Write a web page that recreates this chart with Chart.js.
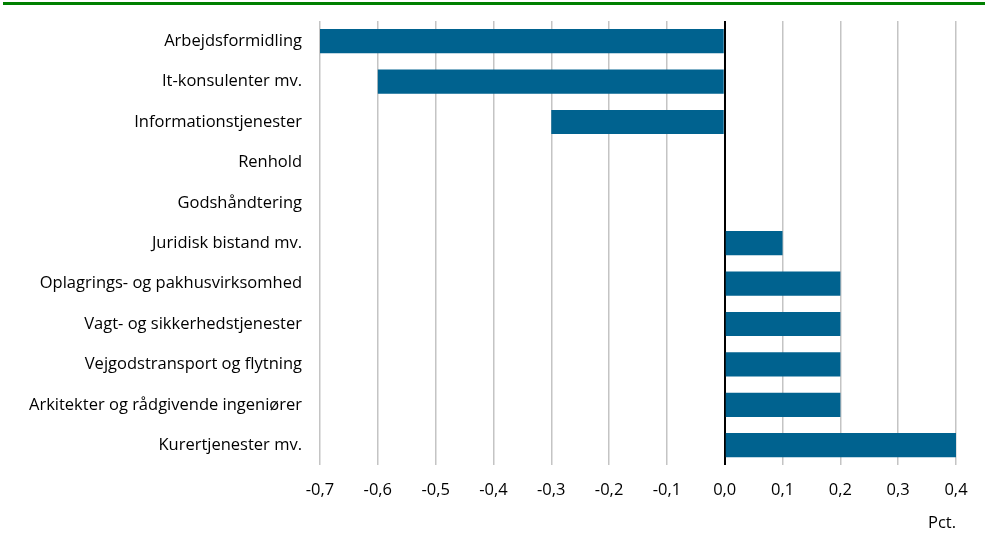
<!DOCTYPE html>
<html>
<head>
<meta charset="utf-8">
<script src="https://cdn.jsdelivr.net/npm/chart.js@4"></script>
<style>
  html, body { margin: 0; padding: 0; background: #fff; }
  #wrap { position: relative; width: 985px; height: 536px; }
  #topline { position: absolute; left: 3px; right: 0; top: 2px; height: 3px; background: #008000; }
</style>
</head>
<body>
<div id="wrap">
  <div id="topline"></div>
  <canvas id="chart" width="985" height="536"></canvas>
</div>
<script>
// ─── DATA ───
const categories = [
    'Arbejdsformidling',
    'It-konsulenter mv.',
    'Informationstjenester',
    'Renhold',
    'Godshåndtering',
    'Juridisk bistand mv.',
    'Oplagrings- og pakhusvirksomhed',
    'Vagt- og sikkerhedstjenester',
    'Vejgodstransport og flytning',
    'Arkitekter og rådgivende ingeniører',
    'Kurertjenester mv.'
];
const changes = [-0.7, -0.6, -0.3, 0, 0, 0.1, 0.2, 0.2, 0.2, 0.2, 0.4];
const xMin = -0.7;
const xMax = 0.4;

const fontFamily = '"Open Sans", sans-serif';

// ─── CREATE THE CHART ───
const ctx = document.getElementById('chart').getContext('2d');
new Chart(ctx, {
    type: 'bar',
    data: {
        labels: categories,
        datasets: [{
            data: changes,
            backgroundColor: '#00628f',
            borderWidth: 0,
            categoryPercentage: 0.6,
            barPercentage: 1.0
        }]
    },
    options: {
        indexAxis: 'y',
        responsive: false,
        animation: false,
        layout: { padding: { top: 21, right: 29, left: 0, bottom: 3 } },
        plugins: {
            legend: { display: false },
            tooltip: { enabled: false }
        },
        scales: {
            x: {
                min: xMin,
                max: xMax,
                ticks: {
                    stepSize: 0.1,
                    color: '#000',
                    padding: 15,
                    font: { family: fontFamily, size: 16.5 },
                    callback: v => (Math.round(v * 10) / 10).toFixed(1).replace('.', ',')
                },
                grid: {
                    drawTicks: false,
                    color: c => Math.abs(c.tick.value) < 1e-9 ? '#000' : '#c4c4c4',
                    lineWidth: c => Math.abs(c.tick.value) < 1e-9 ? 2 : 1.5
                },
                border: { display: false },
                title: {
                    display: true,
                    text: 'Pct.',
                    align: 'end',
                    color: '#000',
                    padding: { top: -2, bottom: 0 },
                    font: { family: fontFamily, size: 16.5 }
                }
            },
            y: {
                afterFit: scale => {
                    scale.width = 320;
                    scale.paddingTop = 0;
                    scale.paddingBottom = 0;
                },
                ticks: {
                    color: '#000',
                    padding: 18,
                    font: { family: fontFamily, size: 16.5 }
                },
                grid: { display: false, drawTicks: false },
                border: { display: false }
            }
        }
    }
});
</script>
</body>
</html>
